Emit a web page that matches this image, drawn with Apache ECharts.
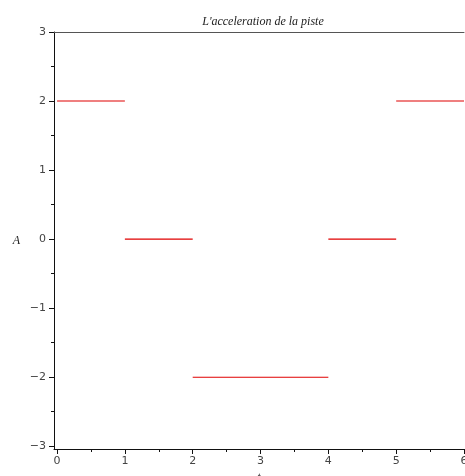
<!DOCTYPE html>
<html>
<head>
<meta charset="utf-8">
<script src="https://cdn.jsdelivr.net/npm/echarts@6/dist/echarts.min.js"></script>
<style>
  html, body { margin: 0; padding: 0; background: #fff; }
  #chart { width: 465px; height: 476px; }
</style>
</head>
<body>
<div id="chart"></div>
<script>
// piecewise acceleration: each segment [start, end] and its constant value
const segStart = [0, 1, 2, 4, 5]
const segEnd = [1, 2, 4, 5, 6]
const segValue = [2, 0, -2, 0, 2]

const xMajor = [0, 1, 2, 3, 4, 5, 6]
const xMinor = [0.5, 1.5, 2.5, 3.5, 4.5, 5.5]
const yMajor = [-3, -2, -1, 0, 1, 2, 3]
const yMinor = [-2.5, -1.5, -0.5, 0.5, 1.5, 2.5]

const chart = echarts.init(document.getElementById('chart'))

const labelFont = { fontFamily: 'DejaVu Sans', fontSize: 11, color: '#444' }
const serifItalic = { fontFamily: 'Liberation Serif', fontStyle: 'italic', fontSize: 12, color: '#222' }

let series = segStart.map((s, i) => {
  return {
    type: 'line',
    xAxisIndex: 0,
    yAxisIndex: 0,
    symbol: 'none',
    silent: true,
    lineStyle: { color: '#e00000', width: 1.1 },
    data: [[s, segValue[i]], [segEnd[i], segValue[i]]]
  }
})

chart.setOption({
  animation: false,
  title: {
    text: "L'acceleration de la piste",
    left: 258,
    textAlign: 'center',
    top: 11,
    textStyle: { fontFamily: 'Liberation Serif', fontStyle: 'italic', fontWeight: 'normal', fontSize: 12, color: '#222' }
  },
  grid: { left: 54, right: 1, top: 32, bottom: 27, outerBoundsMode: 'none', containLabel: false },
  xAxis: [
    {
      type: 'value',
      min: -0.045,
      max: 6,
      position: 'bottom',
      name: 't',
      nameLocation: 'middle',
      nameGap: 21,
      nameTextStyle: serifItalic,
      axisLine: { onZero: false, lineStyle: { color: '#111', width: 1 } },
      axisTick: { customValues: xMajor, length: 5, lineStyle: { color: '#111' } },
      axisLabel: Object.assign({ customValues: xMajor, margin: 7 }, labelFont),
      splitLine: { show: false }
    },
    {
      type: 'value',
      min: -0.045,
      max: 6,
      position: 'bottom',
      axisLine: { show: false, onZero: false },
      axisTick: { customValues: xMinor, length: 3, lineStyle: { color: '#111' } },
      axisLabel: { show: false },
      splitLine: { show: false }
    },
    {
      type: 'value',
      min: -0.045,
      max: 6,
      position: 'top',
      axisLine: { onZero: false, lineStyle: { color: '#555', width: 1 } },
      axisTick: { show: false },
      axisLabel: { show: false },
      splitLine: { show: false }
    }
  ],
  yAxis: [
    {
      type: 'value',
      min: -3.04,
      max: 3,
      position: 'left',
      name: 'A',
      nameLocation: 'middle',
      nameRotate: 0,
      nameGap: 34,
      nameTextStyle: serifItalic,
      axisLine: { onZero: false, lineStyle: { color: '#111', width: 1 } },
      axisTick: { customValues: yMajor, length: 5, lineStyle: { color: '#111' } },
      axisLabel: Object.assign({
        customValues: yMajor,
        margin: 8,
        formatter: v => (v < 0 ? '\u2212' + (-v) : String(v))
      }, labelFont),
      splitLine: { show: false }
    },
    {
      type: 'value',
      min: -3.04,
      max: 3,
      position: 'left',
      axisLine: { show: false, onZero: false },
      axisTick: { customValues: yMinor, length: 3, lineStyle: { color: '#111' } },
      axisLabel: { show: false },
      splitLine: { show: false }
    }
  ],
  series: series
})
</script>
</body>
</html>
